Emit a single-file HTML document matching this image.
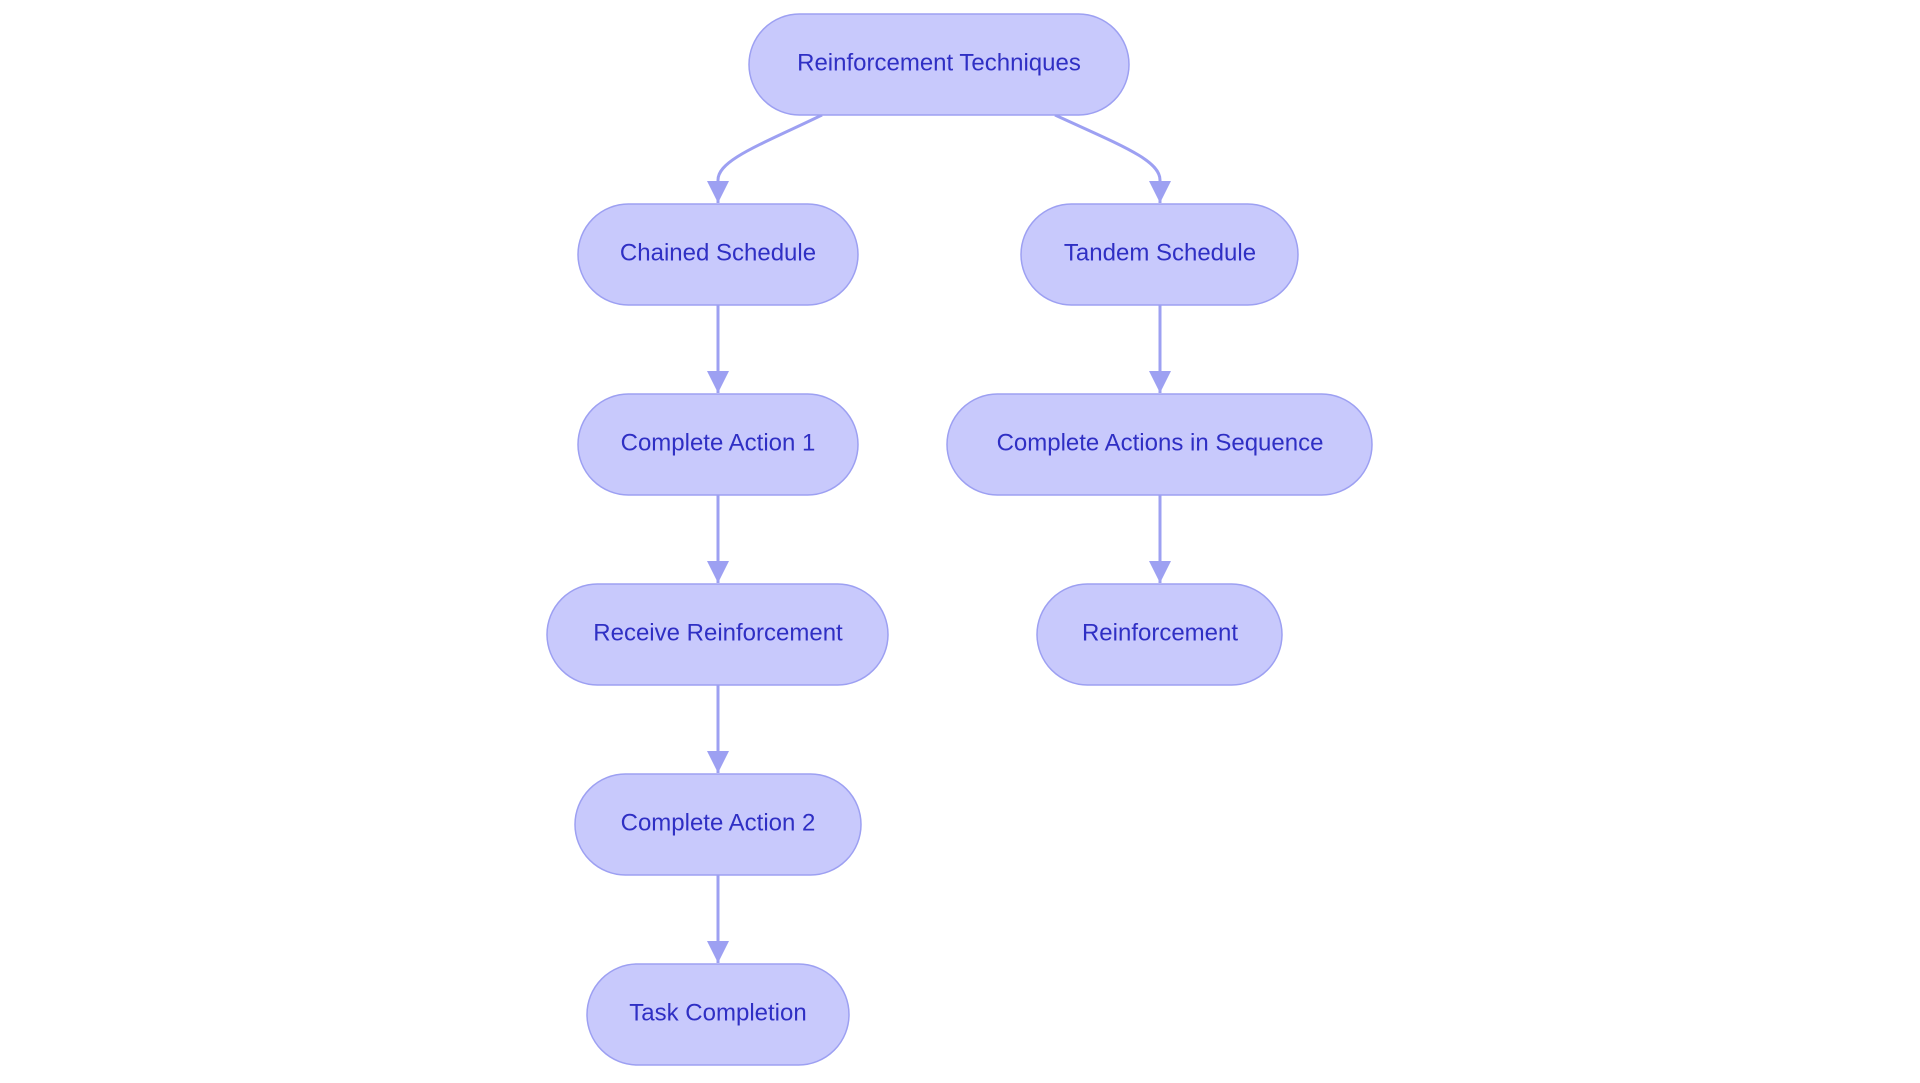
<!DOCTYPE html>
<html><head><meta charset="utf-8"><style>
html,body{margin:0;padding:0;background:#fff;}
svg{display:block}
text{font-family:"Liberation Sans",sans-serif;font-size:24px;fill:#2f2fc4;text-anchor:middle;dominant-baseline:central}
</style></head><body>
<svg width="1920" height="1083" viewBox="0 0 1920 1083" xmlns="http://www.w3.org/2000/svg">
<defs>
<marker id="a" viewBox="0 0 10 10" refX="10" refY="5" markerWidth="22" markerHeight="22" markerUnits="userSpaceOnUse" orient="auto">
<path d="M0,0 L10,5 L0,10 z" fill="#9da0f2"/>
</marker>
</defs>
<g fill="none" stroke="#9da0f2" stroke-width="3">
<path d="M822,115 C760,145 718,160 718,180 L718,203" marker-end="url(#a)"/>
<path d="M1055,115 C1120,145 1160,160 1160,180 L1160,203" marker-end="url(#a)"/>
<path d="M718,305 L718,393" marker-end="url(#a)"/>
<path d="M718,495 L718,583" marker-end="url(#a)"/>
<path d="M718,685 L718,773" marker-end="url(#a)"/>
<path d="M718,875 L718,963" marker-end="url(#a)"/>
<path d="M1160,305 L1160,393" marker-end="url(#a)"/>
<path d="M1160,495 L1160,583" marker-end="url(#a)"/>
</g>
<g fill="#c8c9fc" stroke="#9da0f2" stroke-width="1.5">
<rect x="749" y="14" width="380" height="101" rx="50.5"/>
<rect x="578" y="204" width="280" height="101" rx="50.5"/>
<rect x="1021" y="204" width="277" height="101" rx="50.5"/>
<rect x="578" y="394" width="280" height="101" rx="50.5"/>
<rect x="947" y="394" width="425" height="101" rx="50.5"/>
<rect x="547" y="584" width="341" height="101" rx="50.5"/>
<rect x="1037" y="584" width="245" height="101" rx="50.5"/>
<rect x="575" y="774" width="286" height="101" rx="50.5"/>
<rect x="587" y="964" width="262" height="101" rx="50.5"/>
</g>
<text x="939" y="63">Reinforcement Techniques</text>
<text x="718" y="253">Chained Schedule</text>
<text x="1160" y="253">Tandem Schedule</text>
<text x="718" y="443">Complete Action 1</text>
<text x="1160" y="443">Complete Actions in Sequence</text>
<text x="718" y="633">Receive Reinforcement</text>
<text x="1160" y="633">Reinforcement</text>
<text x="718" y="823">Complete Action 2</text>
<text x="718" y="1013">Task Completion</text>
</svg>
</body></html>
